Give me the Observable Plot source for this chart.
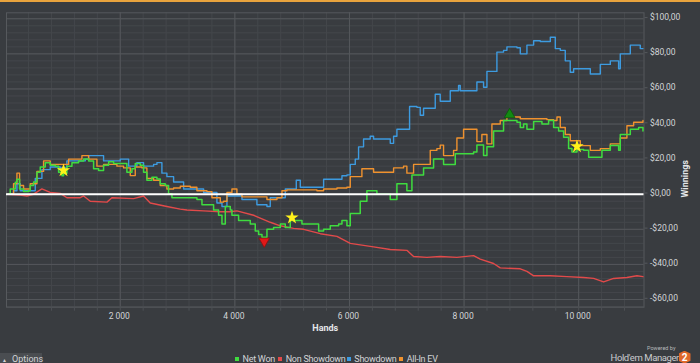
<!DOCTYPE html>
<html>
<head>
<meta charset="utf-8">
<script src="https://cdn.jsdelivr.net/npm/d3@7"></script>
<script src="https://cdn.jsdelivr.net/npm/@observablehq/plot@0.6"></script>
<style>
  html, body { margin: 0; padding: 0; background: #393c40; }
  body { width: 700px; height: 363px; overflow: hidden; font-family: Roboto, "Liberation Sans", sans-serif; }
  #wrap { position: relative; width: 700px; height: 363px; }
  #topbar { position: absolute; left: 0; top: 0; width: 700px; height: 2px; background: #e8a33d; z-index: 2; }
  #chart { position: absolute; left: 0; top: 0; }
  #bottom { position: absolute; left: 0; top: 345px; width: 700px; height: 18px; }
  .sw { position: absolute; top: 12.3px; width: 4px; height: 4px; }
  .lt { position: absolute; top: 8px; font-size: 9px; line-height: 12px; color: #d2d4d7; white-space: nowrap; letter-spacing: -0.25px; }
  #options { position: absolute; left: 0; top: 8.3px; width: 42px; height: 9.7px; background: #4a4d51; }
  #options span { position: absolute; top: -0.8px; font-size: 9px; line-height: 12px; color: #d2d4d7; white-space: nowrap; }
  #powered { position: absolute; left: 647px; top: 0px; font-size: 5.5px; line-height: 6px; color: #b8babd; white-space: nowrap; }
  #hm { position: absolute; left: 610.5px; top: 7px; font-size: 9.5px; line-height: 11px; color: #c9cbce; white-space: nowrap; letter-spacing: -0.4px; }
  #logo { position: absolute; left: 678.5px; top: 5.7px; width: 12px; height: 13px; background: #e0692a;
          clip-path: polygon(50% 0, 100% 22%, 100% 78%, 50% 100%, 0 78%, 0 22%);
          color: #fff; font: bold 10px Roboto, sans-serif; text-align: center; line-height: 13px; }
</style>
</head>
<body>
<div id="wrap">
  <div id="chart"></div>
  <div id="topbar"></div>
  <div id="bottom">
    <div id="options"><span style="left:2px;top:1px;font-size:5px;">▲</span><span style="left:12px;">Options</span></div>
    <div class="sw" style="left:235px;background:#3fdc3f"></div><div class="lt" style="left:242.5px">Net Won</div>
    <div class="sw" style="left:278px;background:#e24a4a"></div><div class="lt" style="left:285.7px">Non Showdown</div>
    <div class="sw" style="left:347.3px;background:#3d9be0"></div><div class="lt" style="left:354.3px">Showdown</div>
    <div class="sw" style="left:399.3px;background:#f0922e"></div><div class="lt" style="left:406.7px">All-In EV</div>
    <div id="powered">Powered by</div>
    <div id="hm">Hold'em Manager</div>
    <div id="logo">2</div>
  </div>
</div>
<script>
// ---- data ----
const xTicks = [2000, 4000, 6000, 8000, 10000];
const yTicks = [-60, -40, -20, 0, 20, 40, 60, 80, 100];

const netWonHands = [34,80,168,197,243,313,400,429,487,546,604,691,778,865,924,982,1011,1069,1157,1273,1361,1448,1535,1622,1709,1797,1884,2000,2116,2204,2262,2349,2407,2465,2553,2640,2698,2785,2843,2902,3106,3338,3426,3629,3716,3775,3833,3920,3949,4065,4269,4356,4415,4473,4560,4676,4793,4880,4967,5083,5171,5374,5462,5549,5665,5811,5869,5956,6014,6130,6188,6304,6421,6479,6653,6712,6770,6828,6944,7002,7090,7235,7293,7410,7468,7584,7642,7817,7846,8166,8224,8340,8399,8457,8515,8631,8689,8806,8923,8981,9039,9097,9214,9359,9475,9563,9650,9737,9824,9883,9970,10086,10174,10319,10406,10552,10697,10726,10901,11046,11122];
const netWonValues = [0,3,6.8,8.5,3,1.5,2,5,7,12.5,15.5,18,16.5,16,12.5,10.5,12,16,18,19,20,19,14.5,13.5,16.5,18.5,17.5,17.5,12.5,14.5,17.5,16.5,12.5,8,9.7,8.7,5.9,4.9,0.2,-2,-2,-3,-6,-9,-12,-17,-7,-9,-12,-15,-17,-21,-23,-24.5,-20,-19,-17,-19,-15,-15,-17,-17,-21,-20,-18,-17,-15,-18,-11,-11,-4,2,2,0,0,-3,-3,6,6,2,11,11,15,15,20,20,17,17,23,24,28,22,27,27,36,36,42,42,41,38,40,37,41.5,40,42,38,36,32.5,26,24,25.5,25,21,21,25,27.7,25,34,37,38,36];

const allInHands = [34,138,197,243,313,429,546,662,778,924,1040,1099,1244,1331,1448,1593,1709,1826,1942,2058,2175,2262,2378,2465,2582,2698,2814,2931,3048,3222,3338,3513,3600,3746,3804,3862,3949,4036,4124,4385,4560,4735,4822,4909,5200,5432,5549,5782,5955,6014,6188,6217,6362,6421,6712,6770,6944,7002,7061,7119,7351,7410,7526,7584,7642,7817,7875,7991,8166,8224,8311,8399,8486,8631,8748,8981,9214,9446,9563,9621,9679,9766,9853,10028,10203,10377,10552,10726,10842,10959,11122];
const allInValues = [0,6,12,5,3,6,13,19,17,17,17,20,20,22,20,16,17,17,16,15,10.6,15.5,15,9,8,5,3,3.5,4.5,4,2,1.5,-2,-4.5,-4,1,3,0,-1.5,-1.5,-3,-2,2,2.5,2.5,2,3,3.5,4,10,10,14.5,14.5,12.5,12.5,15,16,12,12,17,17,25,26,28,22,25,32,37,37,30,34,28.7,40,42,44,43,43,42.5,42,44,38,34,30.5,27.7,25,26,28.7,32,39,41,42];

const showdownHands = [34,138,197,255,429,517,633,778,953,1069,1389,1448,1651,1709,1826,2000,2146,2291,2407,2582,2640,2727,2814,2931,3048,3106,3338,3455,3571,3687,3775,3862,4036,4124,4298,4385,4560,4618,4793,4880,5025,5072,5142,5491,5549,5782,5869,5956,6014,6101,6159,6246,6362,6421,6653,6712,6770,6828,7002,7049,7177,7235,7293,7410,7497,7584,7701,7759,7904,7933,8166,8224,8340,8399,8515,8573,8689,8748,8923,8981,9039,9097,9214,9330,9446,9505,9592,9679,9766,9853,9912,10086,10203,10319,10377,10494,10552,10668,10697,10726,10842,10901,11017,11075,11122];
const showdownValues = [0,2,6,2,2,9,14,15.5,15,19,20,22,22,19,19,20,16,18,16,17,18,12,10,7,7,3,3,1,1,-5,-7,-1,-1,-3,-3,-6,-7,-2,-2,3,3,8,4,4,8.5,8.5,10.5,11,17,20,27,31.5,33,31.5,31.5,29,33,37,37,50,49.5,45,49,49,57,53,53,59,62,59,59,64,61,70,70,81,82,84,83.5,80,80,85,87.5,87,87,89.5,83,82,76,69.5,71.5,71.5,68.5,68.5,74,74,76,76,71.5,80,80,85,85,83,83];

const nonShowdownHands = [34,255,371,487,633,778,953,1069,1302,1361,1477,1768,1855,2233,2407,2524,2814,3047,3164,3455,3746,3920,4036,4327,4618,4793,5025,5200,5491,5782,6014,6421,6712,7002,7119,7351,7584,7875,8166,8282,8515,8631,8981,9097,9214,9505,9795,10086,10261,10435,10610,10842,11017,11122];
const nonShowdownValues = [0,-0.5,-1,0,3,1,0.5,-2,-2,-1,-4,-4.5,-2,-2.5,-1,-5,-7,-8.5,-9,-9.5,-10,-10,-9.5,-12,-16,-18,-19.5,-20,-22.5,-24,-28,-30,-31.5,-32,-35.5,-36,-35.5,-36,-35,-37,-39.5,-42,-42.5,-44,-46.5,-46.5,-47,-47.5,-48,-50,-48,-47.5,-46.5,-47];

const starHands = [1010, 4997, 9970];
const starValues = [13.5, -13.4, 27.2];
const minHand = [4513], minValue = [-26.8];
const maxHand = [8795], maxValue = [45.4];

// ---- build ----
const toRows = (hs, vs) => hs.map((h, i) => ({hand: h, value: vs[i]}));
const netWon = toRows(netWonHands, netWonValues);
const allIn = toRows(allInHands, allInValues);
const showdown = toRows(showdownHands, showdownValues);
const nonShowdown = toRows(nonShowdownHands, nonShowdownValues);
const stars = toRows(starHands, starValues);
const minPt = toRows(minHand, minValue);
const maxPt = toRows(maxHand, maxValue);

const minorX = d3.range(400, 11140, 400);
const minorY = d3.range(-64, 104, 4);

const fmtY = d => (d < 0 ? "-" : "") + "$" + Math.abs(d).toFixed(2).replace(".", ",");
const fmtX = d => d3.format(",")(d).replace(/,/g, " ");

const gridMinor = "#44474b", gridMajor = "#54575b", textCol = "#d2d4d7";

const chart = Plot.plot({
  width: 700, height: 345,
  marginLeft: 6, marginRight: 56.5, marginTop: 12.3, marginBottom: 38.3,
  style: {background: "#393c40", color: textCol, fontSize: "8.5px", fontFamily: 'Roboto, "Liberation Sans", sans-serif'},
  x: {domain: [15, 11140], label: null},
  y: {domain: [-64.4, 103.4], label: null},
  marks: [
    Plot.gridX(minorX, {stroke: gridMinor, strokeOpacity: 1}),
    Plot.gridY(minorY, {stroke: gridMinor, strokeOpacity: 1}),
    Plot.gridX(xTicks, {stroke: gridMajor, strokeOpacity: 1}),
    Plot.gridY(yTicks, {stroke: gridMajor, strokeOpacity: 1}),
    Plot.frame({stroke: "#56595d"}),
    Plot.axisX(minorX, {anchor: "bottom", tickSize: 4, tickFormat: () => "", stroke: "#4d5054"}),
    Plot.axisX(xTicks, {anchor: "bottom", tickSize: 0, tickPadding: 6, tickFormat: fmtX, fill: textCol, dx: -1, fontSize: 8.5}),
    Plot.axisY(yTicks, {anchor: "right", tickSize: 3, tickPadding: 3, tickFormat: fmtY, stroke: "#56595d", fill: textCol, dy: -1.2, fontSize: 8.5}),
    Plot.line(nonShowdown, {x: "hand", y: "value", stroke: "#e24a4a", strokeWidth: 1.4}),
    Plot.line(showdown, {x: "hand", y: "value", stroke: "#3d9be0", strokeWidth: 1.4, curve: "step-after"}),
    Plot.line(allIn, {x: "hand", y: "value", stroke: "#f0922e", strokeWidth: 1.4, curve: "step-after"}),
    Plot.line(netWon, {x: "hand", y: "value", stroke: "#3fdc3f", strokeWidth: 1.5, curve: "step-after"}),
    Plot.ruleY([0], {stroke: "#ffffff", strokeWidth: 2}),
    Plot.dot(stars, {x: "hand", y: "value", symbol: "star", fill: "#fff21a", stroke: "none", r: 4.2}),
    Plot.dot(minPt, {x: "hand", y: "value", symbol: "triangle", rotate: 180, fill: "#e01818", stroke: "#8a1010", strokeWidth: 0.8, r: 4}),
    Plot.dot(maxPt, {x: "hand", y: "value", symbol: "triangle", fill: "#128a12", stroke: "#0a5a0a", strokeWidth: 0.8, r: 4}),
    Plot.text(["Hands"], {text: d => d, frameAnchor: "bottom", dy: 24, fontWeight: "bold", fontSize: 9, fill: "#e4e6e8"}),
    Plot.text(["Winnings"], {text: d => d, frameAnchor: "right", dx: 41.5, rotate: -90, fontWeight: "bold", fontSize: 9, fill: "#e4e6e8"})
  ]
});
document.getElementById("chart").appendChild(chart);
</script>
</body>
</html>
